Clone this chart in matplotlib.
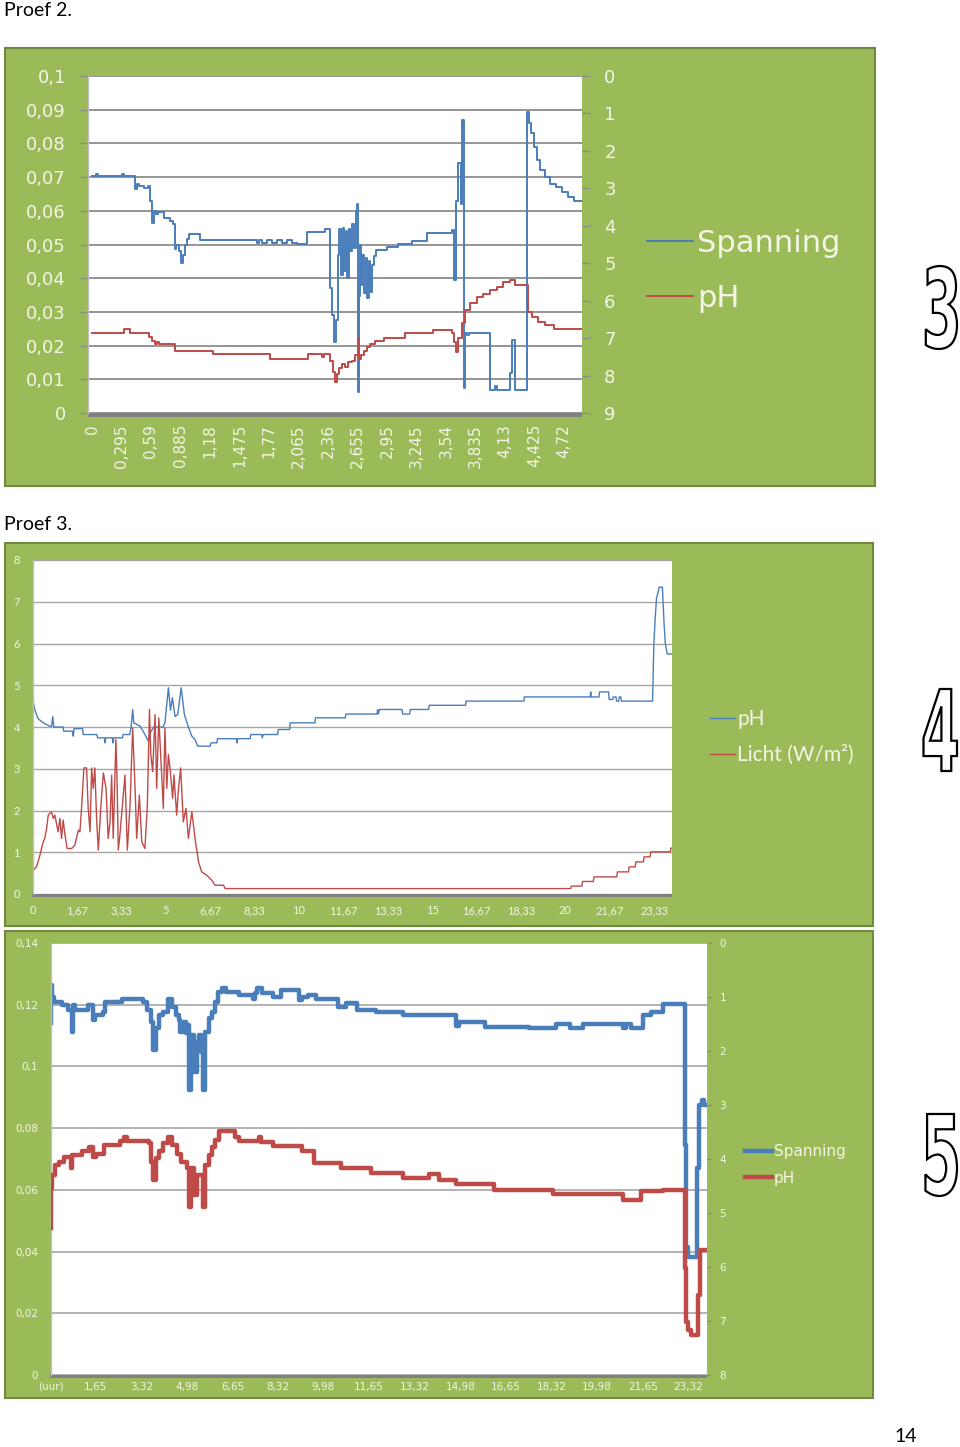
import numpy as np
import matplotlib.pyplot as plt
from matplotlib.patches import Rectangle, PathPatch
from matplotlib.textpath import TextPath
from matplotlib.font_manager import FontProperties
from matplotlib.path import Path

W, H = 960, 1447
GREEN = '#9BBB59'
EDGE = '#71893F'
BLUE = '#4A7EBB'
RED = '#BE4B48'
LAB = '#F3F6E6'

# ---------------- Proef 2 (tijd in uur) ----------------
span2_t = [0.00, 0.04, 0.06, 0.30, 0.32, 0.43, 0.45, 0.47, 0.52, 0.56, 0.58, 0.60, 0.62, 0.64, 0.66, 0.72, 0.78,
           0.81, 0.825, 0.84, 0.87, 0.89, 0.91, 0.93, 0.95, 0.97, 1.08, 1.65, 1.67, 1.70, 1.75, 1.80, 1.85, 1.90,
           1.95, 2.00, 2.05, 2.15, 2.33, 2.38, 2.40, 2.42, 2.44, 2.46, 2.47, 2.49, 2.51, 2.52, 2.54, 2.55, 2.57,
           2.58, 2.60, 2.62, 2.635, 2.65, 2.66, 2.665, 2.68, 2.69, 2.70, 2.72, 2.735, 2.75, 2.77, 2.78, 2.80, 2.82,
           2.84, 2.95, 3.06, 3.20, 3.35, 3.60, 3.62, 3.64, 3.66, 3.69, 3.70, 3.715, 3.725, 3.75, 3.77, 3.98, 4.03,
           4.05, 4.18, 4.20, 4.23, 4.35, 4.37, 4.39, 4.42, 4.45, 4.48, 4.53, 4.58, 4.64, 4.70, 4.76, 4.82, 4.90]
span2_v = [0.0703, 0.0710, 0.0703, 0.0710, 0.0703, 0.0665, 0.0680, 0.0674, 0.0668, 0.0674, 0.0630, 0.0565, 0.0600,
           0.0590, 0.0596, 0.0580, 0.0570, 0.0560, 0.0486, 0.0500, 0.0480, 0.0445, 0.0470, 0.0500, 0.0515, 0.0532,
           0.0512, 0.0505, 0.0512, 0.0505, 0.0512, 0.0505, 0.0512, 0.0505, 0.0512, 0.0505, 0.0502, 0.0536, 0.0545,
           0.0370, 0.0290, 0.0212, 0.0275, 0.0470, 0.0545, 0.0410, 0.0550, 0.0420, 0.0540, 0.0400, 0.0545, 0.0480,
           0.0560, 0.0490, 0.0600, 0.0620, 0.0062, 0.0346, 0.0500, 0.0380, 0.0470, 0.0356, 0.0460, 0.0340, 0.0450,
           0.0360, 0.0440, 0.0465, 0.0485, 0.0494, 0.0502, 0.0511, 0.0535, 0.0543, 0.0395, 0.0630, 0.0742, 0.0620,
           0.0870, 0.0074, 0.0237, 0.0230, 0.0237, 0.0068, 0.0080, 0.0068, 0.0120, 0.0217, 0.0068, 0.0894, 0.0860,
           0.0830, 0.0790, 0.0750, 0.0720, 0.0700, 0.0680, 0.0670, 0.0655, 0.0640, 0.0630, 0.0630]
ph2_t = [0.00, 0.32, 0.38, 0.57, 0.60, 0.63, 0.65, 0.67, 0.83, 1.21, 1.78, 2.16, 2.30, 2.32, 2.38, 2.41, 2.43, 2.45,
         2.47, 2.50, 2.53, 2.56, 2.60, 2.63, 2.655, 2.665, 2.69, 2.72, 2.75, 2.78, 2.83, 2.92, 3.13, 3.41, 3.60, 3.62,
         3.64, 3.66, 3.70, 3.73, 3.78, 3.85, 3.91, 3.98, 4.05, 4.11, 4.18, 4.23, 4.36, 4.40, 4.46, 4.53, 4.62, 4.90]
ph2_v = [6.87, 6.77, 6.87, 6.98, 7.07, 7.16, 7.10, 7.16, 7.34, 7.43, 7.55, 7.43, 7.50, 7.43, 7.60, 7.90, 8.16, 7.95,
         7.80, 7.70, 7.78, 7.65, 7.60, 7.45, 7.00, 7.55, 7.45, 7.35, 7.25, 7.15, 7.07, 7.00, 6.87, 6.78, 6.87, 7.10,
         7.36, 7.00, 6.60, 6.25, 6.07, 5.90, 5.81, 5.72, 5.63, 5.50, 5.45, 5.59, 6.30, 6.43, 6.56, 6.65, 6.76, 6.76]
x2_labels = ['0', '0,295', '0,59', '0,885', '1,18', '1,475', '1,77', '2,065', '2,36', '2,655', '2,95', '3,245',
             '3,54', '3,835', '4,13', '4,425', '4,72']

# ---------------- Proef 3 (pH en licht) ----------------
ph3_t = [0.00, 0.03, 0.09, 0.21, 0.40, 0.65, 0.72, 0.76, 0.80, 1.15, 1.17, 1.50, 1.53, 1.56, 1.88, 1.90, 2.41, 2.45,
         2.70, 2.72, 2.75, 3.00, 3.02, 3.05, 3.38, 3.40, 3.65, 3.70, 3.76, 3.80, 4.04, 4.22, 4.35, 4.40, 4.55, 4.90,
         4.97, 5.10, 5.18, 5.25, 5.35, 5.45, 5.58, 5.70, 5.85, 5.98, 6.10, 6.20, 6.67, 6.70, 6.92, 6.94, 7.65, 7.67,
         7.70, 8.17, 8.19, 8.60, 8.62, 8.66, 9.20, 9.22, 9.65, 9.67, 10.60, 10.62, 11.74, 11.76, 12.93, 12.95, 12.98,
         13.02, 13.87, 13.89, 14.15, 14.18, 14.87, 14.89, 16.25, 16.27, 18.44, 18.46, 20.93, 20.95, 20.97, 21.26,
         21.28, 21.62, 21.64, 21.78, 21.80, 21.90, 21.92, 22.00, 22.02, 22.08, 22.10, 23.27, 23.32, 23.37, 23.42,
         23.47, 23.52, 23.64, 23.70, 23.75, 23.82, 24.00]
ph3_v = [5.30, 4.60, 4.40, 4.20, 4.10, 4.02, 4.02, 4.25, 4.00, 4.00, 3.90, 3.90, 3.78, 3.96, 3.96, 3.82, 3.82, 3.74,
         3.74, 3.62, 3.74, 3.74, 3.62, 3.74, 3.74, 3.82, 3.82, 4.00, 4.42, 4.10, 4.02, 3.82, 3.66, 3.84, 4.00, 4.00,
         4.10, 4.94, 4.40, 4.70, 4.25, 4.30, 4.94, 4.30, 4.00, 3.78, 3.70, 3.54, 3.54, 3.62, 3.62, 3.72, 3.72, 3.62,
         3.72, 3.72, 3.82, 3.82, 3.74, 3.82, 3.82, 3.94, 3.94, 4.10, 4.10, 4.22, 4.22, 4.31, 4.31, 4.42, 4.31, 4.42,
         4.42, 4.31, 4.31, 4.42, 4.42, 4.52, 4.52, 4.62, 4.62, 4.72, 4.72, 4.84, 4.72, 4.72, 4.84, 4.84, 4.66, 4.66,
         4.72, 4.72, 4.62, 4.62, 4.72, 4.72, 4.62, 4.62, 6.00, 6.62, 7.10, 7.20, 7.35, 7.35, 6.50, 6.00, 5.75, 5.75]
licht_t = [0.00, 0.03, 0.15, 0.28, 0.40, 0.46, 0.53, 0.59, 0.71, 0.78, 0.84, 0.96, 1.03, 1.09, 1.15, 1.22, 1.30, 1.47,
           1.59, 1.72, 1.78, 1.84, 1.93, 2.03, 2.09, 2.16, 2.22, 2.28, 2.34, 2.41, 2.47, 2.56, 2.66, 2.76, 2.84, 2.91,
           2.97, 3.03, 3.13, 3.18, 3.22, 3.28, 3.47, 3.56, 3.66, 3.76, 3.85, 3.91, 4.01, 4.10, 4.22, 4.31, 4.39, 4.44,
           4.51, 4.60, 4.66, 4.74, 4.81, 4.91, 4.97, 5.04, 5.10, 5.16, 5.26, 5.31, 5.41, 5.48, 5.56, 5.66, 5.76, 5.85,
           5.98, 6.10, 6.23, 6.35, 6.54, 6.73, 6.85, 7.17, 7.20, 7.23, 20.20, 20.22, 20.62, 20.64, 21.05, 21.07,
           21.93, 21.95, 22.37, 22.39, 22.62, 22.64, 22.93, 22.95, 23.18, 23.20, 23.94, 23.96, 24.00]
licht_v = [0.50, 0.57, 0.65, 0.93, 1.25, 1.33, 1.57, 1.89, 1.97, 1.81, 1.89, 1.49, 1.81, 1.33, 1.77, 1.41, 1.09, 1.09,
           1.17, 1.53, 1.49, 2.05, 3.02, 3.02, 2.05, 1.49, 3.02, 2.53, 3.02, 1.73, 1.05, 2.05, 2.90, 2.53, 1.33, 1.73,
           2.85, 1.33, 3.70, 2.53, 1.05, 1.41, 2.85, 1.05, 2.13, 3.98, 2.53, 1.33, 2.37, 1.25, 1.09, 2.13, 4.42, 3.34,
           2.93, 4.30, 2.53, 4.22, 3.34, 2.05, 3.98, 2.53, 3.34, 3.02, 2.29, 2.85, 1.89, 2.53, 3.02, 1.73, 2.05, 1.33,
           1.97, 1.33, 0.77, 0.53, 0.45, 0.33, 0.21, 0.21, 0.17, 0.13, 0.13, 0.19, 0.19, 0.30, 0.30, 0.41, 0.41, 0.53,
           0.53, 0.65, 0.65, 0.77, 0.77, 0.89, 0.89, 1.01, 1.01, 1.10, 1.10]
x3_labels = ['0', '1,67', '3,33', '5', '6,67', '8,33', '10', '11,67', '13,33', '15', '16,67', '18,33', '20', '21,67',
             '23,33']

# ---------------- onderste grafiek (spanning en pH) ----------------
span4_t = [0.00, 0.02, 0.07, 0.12, 0.41, 0.65, 0.79, 0.84, 0.90, 1.38, 1.57, 1.64, 1.93, 1.99, 2.60, 3.39, 3.52, 3.68,
           3.76, 3.84, 3.95, 4.10, 4.30, 4.45, 4.58, 4.68, 4.75, 4.85, 4.95, 5.02, 5.07, 5.13, 5.24, 5.34, 5.44, 5.51,
           5.58, 5.66, 5.78, 5.90, 6.03, 6.12, 6.28, 6.42, 6.90, 7.40, 7.46, 7.56, 7.75, 8.12, 8.42, 9.10, 9.20, 9.40,
           9.70, 10.50, 10.80, 11.22, 11.90, 12.88, 14.83, 14.92, 15.87, 17.50, 18.48, 18.98, 19.45, 20.93, 21.05,
           21.22, 21.65, 21.95, 22.38, 23.20, 23.24, 23.30, 23.62, 23.70, 23.80, 23.90, 24.00]
span4_v = [0.1140, 0.1264, 0.1226, 0.1210, 0.1200, 0.1183, 0.1113, 0.1200, 0.1183, 0.1200, 0.1150, 0.1167, 0.1177,
           0.1210, 0.1220, 0.1210, 0.1183, 0.1145, 0.1053, 0.1123, 0.1167, 0.1175, 0.1220, 0.1194, 0.1167, 0.1150,
           0.1113, 0.1145, 0.1107, 0.1134, 0.0924, 0.1102, 0.0983, 0.1080, 0.1102, 0.1048, 0.0924, 0.1113, 0.1156,
           0.1177, 0.1210, 0.1242, 0.1253, 0.1242, 0.1232, 0.1220, 0.1237, 0.1253, 0.1237, 0.1226, 0.1248, 0.1215,
           0.1226, 0.1232, 0.1220, 0.1194, 0.1204, 0.1183, 0.1175, 0.1167, 0.1130, 0.1143, 0.1129, 0.1126, 0.1136,
           0.1126, 0.1136, 0.1124, 0.1136, 0.1124, 0.1167, 0.1175, 0.1201, 0.0745, 0.0416, 0.0384, 0.0670, 0.0875,
           0.0891, 0.0875, 0.0875]
ph4_t = [0.00, 0.02, 0.07, 0.18, 0.30, 0.50, 0.75, 0.80, 1.15, 1.40, 1.57, 1.65, 1.95, 2.55, 2.70, 2.80, 3.60, 3.68,
         3.76, 3.85, 3.95, 4.12, 4.28, 4.45, 4.62, 4.76, 4.98, 5.07, 5.13, 5.24, 5.36, 5.58, 5.66, 5.78, 5.90, 6.03,
         6.15, 6.75, 6.88, 7.62, 7.70, 8.12, 9.20, 9.65, 10.62, 11.70, 12.88, 13.85, 14.22, 14.83, 16.22, 18.37,
         20.93, 21.60, 22.38, 23.20, 23.25, 23.32, 23.40, 23.66, 23.74, 24.00]
ph4_v = [5.28, 4.54, 4.30, 4.11, 4.05, 3.96, 4.17, 3.93, 3.86, 3.77, 3.96, 3.90, 3.74, 3.67, 3.59, 3.67, 3.71, 4.05,
         4.39, 3.99, 3.86, 3.71, 3.59, 3.74, 3.90, 4.05, 4.17, 4.88, 4.17, 4.67, 4.30, 4.88, 4.11, 3.93, 3.77, 3.65,
         3.49, 3.59, 3.67, 3.59, 3.68, 3.75, 3.85, 4.08, 4.16, 4.25, 4.36, 4.28, 4.39, 4.47, 4.57, 4.65, 4.76, 4.60,
         4.57, 6.02, 7.01, 7.17, 7.26, 6.52, 5.69, 5.69]
x4_labels = ['(uur)', '1,65', '3,32', '4,98', '6,65', '8,32', '9,98', '11,65', '13,32', '14,98', '16,65', '18,32',
             '19,98', '21,65', '23,32']


def comma(v):
    s = f'{v:.2f}'.rstrip('0').rstrip('.')
    return s.replace('.', ',')


def box(x0, y0, x1, y1):
    # pixel box on the page -> figure fraction
    return [x0 / W, 1 - y1 / H, (x1 - x0) / W, (y1 - y0) / H]


def pos(labels):
    return [0.0 if not l[0].isdigit() else float(l.replace(',', '.')) for l in labels]


fig = plt.figure(figsize=(W / 100, H / 100), dpi=100)
bg = fig.add_axes([0, 0, 1, 1])
bg.set_xlim(0, W)
bg.set_ylim(H, 0)
bg.axis('off')

# green chart frames and grey 3d floors
for (x0, y0, x1, y1) in [(5, 48, 875, 486), (5, 543, 873, 926), (5, 931, 873, 1398)]:
    bg.add_patch(Rectangle((x0, y0), x1 - x0, y1 - y0, fc=GREEN, ec=EDGE, lw=1.5))
for (x0, y0, x1, y1) in [(88, 412, 582, 417), (32, 893, 672, 897), (50, 1374, 707, 1378)]:
    bg.add_patch(Rectangle((x0, y0), x1 - x0, y1 - y0, fc='#808080', ec='none'))

bg.text(4, 10, 'Proef 2.', fontsize=14, family='Lato', va='center', ha='left')
bg.text(4, 525, 'Proef 3.', fontsize=14, family='Lato', va='center', ha='left')
bg.text(906, 1437, '14', fontsize=14, family='Lato', va='center', ha='center')


def outline_num(s, x0, y0, x1, y1):
    tp = TextPath((0, 0), s, size=100, prop=FontProperties(family='DejaVu Sans', weight='bold'))
    v = tp.vertices.copy()
    mn, mx = v.min(axis=0), v.max(axis=0)
    v[:, 0] = x0 + (v[:, 0] - mn[0]) / (mx[0] - mn[0]) * (x1 - x0)
    v[:, 1] = y1 - (v[:, 1] - mn[1]) / (mx[1] - mn[1]) * (y1 - y0)
    bg.add_patch(PathPatch(Path(v, tp.codes), fc='white', ec='black', lw=1.6))


outline_num('3', 922, 266, 957, 349)
outline_num('4', 921, 689, 957, 771)
outline_num('5', 921, 1114, 957, 1196)


def clean(ax):
    for s in ['top', 'right', 'bottom']:
        ax.spines[s].set_visible(False)
    ax.spines['left'].set_color('#BFBFBF')
    ax.spines['left'].set_linewidth(1)


# ---- Proef 2 ----
ax1 = fig.add_axes(box(88, 76, 582, 413))
h1, = ax1.step(span2_t, span2_v, where='post', color=BLUE, lw=1.4)
ax1.set_xlim(-0.04, 4.90)
ax1.set_ylim(0, 0.1)
yt = np.round(np.arange(0, 0.1001, 0.01), 2)
ax1.set_yticks(yt)
ax1.set_yticklabels([comma(v) for v in yt])
ax1.set_xticks(pos(x2_labels))
ax1.set_xticklabels(x2_labels, rotation=90)
ax1.tick_params(axis='y', length=6, width=1, color='#8C8C8C', pad=10, labelsize=13, labelcolor=LAB)
ax1.tick_params(axis='x', length=0, pad=8, labelsize=11, labelcolor=LAB)
ax1.grid(axis='y', color='#8C8C8C', lw=1.3)
ax1.set_axisbelow(True)
clean(ax1)
ax1r = ax1.twinx()
h2, = ax1r.step(ph2_t, ph2_v, where='post', color=RED, lw=1.4)
ax1r.set_ylim(9, 0)
ax1r.set_yticks(range(10))
ax1r.tick_params(axis='y', length=6, width=1, color='#8C8C8C', pad=10, labelsize=13, labelcolor=LAB)
for s in ax1r.spines.values():
    s.set_visible(False)
ax1r.legend([h1, h2], ['Spanning', 'pH'], loc='center left', bbox_to_anchor=(647 / W, 1 - 271 / H),
            bbox_transform=fig.transFigure, frameon=False, fontsize=22, labelcolor=LAB, handlelength=1.5,
            handletextpad=0.15, labelspacing=0.85, borderpad=0, borderaxespad=0)

# ---- Proef 3 ----
ax2 = fig.add_axes(box(32.5, 560, 672, 894))
g1, = ax2.plot(ph3_t, ph3_v, color=BLUE, lw=1.0)
g2, = ax2.plot(licht_t, licht_v, color=RED, lw=1.0)
ax2.set_xlim(0, 24)
ax2.set_ylim(0, 8)
ax2.set_yticks(range(9))
ax2.set_xticks(pos(x3_labels))
ax2.set_xticklabels(x3_labels)
ax2.tick_params(axis='both', length=0, labelsize=8, labelcolor=LAB)
ax2.tick_params(axis='y', pad=9)
ax2.tick_params(axis='x', pad=8)
for t in ax2.get_xticklabels() + ax2.get_yticklabels():
    t.set_family('Lato')
ax2.grid(axis='y', color='#A6A6A6', lw=1)
ax2.set_axisbelow(True)
clean(ax2)
ax2.legend([g1, g2], ['pH', 'Licht (W/m²)'], loc='center left', bbox_to_anchor=(710 / W, 1 - 737 / H),
           bbox_transform=fig.transFigure, frameon=False, prop={'family': 'Lato', 'size': 15}, labelcolor=LAB,
           handlelength=1.2, handletextpad=0.1, labelspacing=0.75, borderpad=0, borderaxespad=0)

# ---- onderste grafiek ----
ax3 = fig.add_axes(box(50.5, 943, 707, 1375))
k1, = ax3.step(span4_t, span4_v, where='post', color=BLUE, lw=3.2)
ax3.set_xlim(0, 24)
ax3.set_ylim(0, 0.14)
yt3 = np.round(np.arange(0, 0.1401, 0.02), 2)
ax3.set_yticks(yt3)
ax3.set_yticklabels([comma(v) for v in yt3])
ax3.set_xticks(pos(x4_labels))
ax3.set_xticklabels(x4_labels)
ax3.tick_params(axis='y', length=0, pad=9, labelsize=7.5, labelcolor=LAB)
ax3.tick_params(axis='x', length=0, pad=5, labelsize=7.5, labelcolor=LAB)
ax3.grid(axis='y', color='#A6A6A6', lw=1.2)
ax3.set_axisbelow(True)
clean(ax3)
ax3r = ax3.twinx()
k2, = ax3r.step(ph4_t, ph4_v, where='post', color=RED, lw=3.2)
ax3r.set_ylim(8, 0)
ax3r.set_yticks(range(9))
ax3r.tick_params(axis='y', length=3, width=1, color='#8C8C8C', pad=6, labelsize=7.5, labelcolor=LAB)
for s in ax3r.spines.values():
    s.set_visible(False)
ax3r.legend([k1, k2], ['Spanning', 'pH'], loc='center left', bbox_to_anchor=(745 / W, 1 - 1165 / H),
            bbox_transform=fig.transFigure, frameon=False, fontsize=11, labelcolor=LAB, handlelength=1.75,
            handletextpad=0.12, labelspacing=0.75, borderpad=0, borderaxespad=0)

fig.savefig('out.png', dpi=100)
